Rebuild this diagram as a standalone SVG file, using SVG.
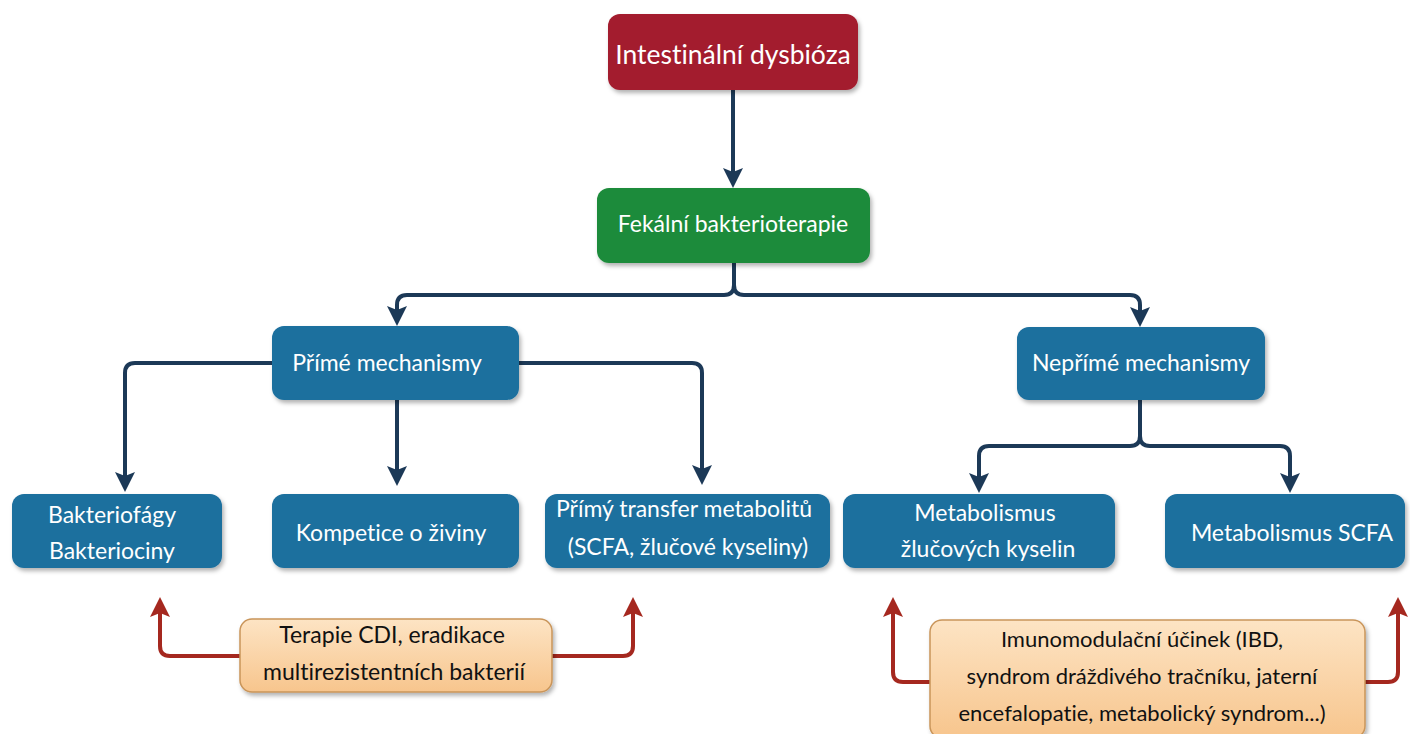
<svg xmlns="http://www.w3.org/2000/svg" width="1410" height="734" viewBox="0 0 1410 734">
<style>
.box{stroke:none;filter:url(#sh)}
.red{fill:#A31B2D}
.green{fill:#1F8B3B}
.blue{fill:#1B6F9E}
.org{fill:url(#og);stroke:#C9955A;stroke-width:1.5;filter:url(#sh)}
.t{font-family:Lato,"Liberation Sans",sans-serif;font-size:23px;fill:#fff;text-anchor:middle;font-variant-ligatures:none}
.tk{font-family:Lato,"Liberation Sans",sans-serif;font-size:23px;fill:#111;text-anchor:middle;font-variant-ligatures:none}
.c{fill:none;stroke:#1C3957;stroke-width:4;marker-end:url(#ad)}
.r{fill:none;stroke:#A5281F;stroke-width:4;marker-end:url(#ar)}
</style>
<defs>
<filter id="sh" x="-10%" y="-10%" width="120%" height="130%">
<feDropShadow dx="2" dy="3" stdDeviation="2" flood-color="#000" flood-opacity="0.3"/>
</filter>
<linearGradient id="og" x1="0" y1="0" x2="0" y2="1">
<stop offset="0" stop-color="#FDE4C4"/>
<stop offset="1" stop-color="#F7C58D"/>
</linearGradient>
<marker id="ad" markerUnits="userSpaceOnUse" viewBox="0 0 20 20" markerWidth="20" markerHeight="20" refX="12" refY="10" orient="auto">
<path d="M0,0 L20,10 L0,20 L4,10 z" fill="#1C3957"/>
</marker>
<marker id="ar" markerUnits="userSpaceOnUse" viewBox="0 0 20 20" markerWidth="20" markerHeight="20" refX="12" refY="10" orient="auto">
<path d="M0,0 L20,10 L0,20 L4,10 z" fill="#A5281F"/>
</marker>
</defs>
<rect width="1410" height="734" fill="#fff"/>
<g id="connectors">
<path class="c" d="M733,90 V180"/>
<path class="c" d="M734,263 V285 Q734,295 724,295 H407 Q397,295 397,305 V318"/>
<path class="c" d="M734,263 V285 Q734,295 744,295 H1130 Q1140,295 1140,305 V319"/>
<path class="c" d="M272,363 H135 Q125,363 125,373 V484"/>
<path class="c" d="M397,400 V478"/>
<path class="c" d="M519,363 H692 Q702,363 702,373 V477"/>
<path class="c" d="M1140,400 V436 Q1140,446 1130,446 H989 Q979,446 979,456 V485"/>
<path class="c" d="M1140,400 V436 Q1140,446 1150,446 H1280 Q1290,446 1290,456 V485"/>
<path class="r" d="M240,656 H170 Q160,656 160,646 V605"/>
<path class="r" d="M552,656 H623 Q633,656 633,646 V605"/>
<path class="r" d="M930,682 H903 Q893,682 893,672 V605"/>
<path class="r" d="M1365,682 H1388 Q1398,682 1398,672 V605"/>
</g>
<g id="n-dysbioza"><rect class="box red" x="608" y="14" width="250" height="76" rx="12"/><text class="t" x="733" y="64" style="font-size:26.5px">Intestinální dysbióza</text></g>
<g id="n-fekalni"><rect class="box green" x="597" y="188" width="273" height="75" rx="12"/><text class="t" x="733" y="232">Fekální bakterioterapie</text></g>
<g id="n-prime"><rect class="box blue" x="272" y="326" width="247" height="74" rx="12"/><text class="t" x="387" y="371">Přímé mechanismy</text></g>
<g id="n-neprime"><rect class="box blue" x="1017" y="327" width="248" height="73" rx="12"/><text class="t" x="1141" y="371">Nepřímé mechanismy</text></g>
<g id="n-bakteriofagy"><rect class="box blue" x="12" y="494" width="210" height="74" rx="12"/><text class="t" x="112" y="523">Bakteriofágy</text><text class="t" x="112" y="559">Bakteriociny</text></g>
<g id="n-kompetice"><rect class="box blue" x="272" y="494" width="247" height="74" rx="12"/><text class="t" x="391" y="541">Kompetice o živiny</text></g>
<g id="n-transfer"><rect class="box blue" x="545" y="494" width="285" height="74" rx="12"/><text class="t" x="684" y="517">Přímý transfer metabolitů</text><text class="t" x="688" y="555">(SCFA, žlučové kyseliny)</text></g>
<g id="n-zlucove"><rect class="box blue" x="843" y="494" width="272" height="74" rx="12"/><text class="t" x="985" y="521">Metabolismus</text><text class="t" x="988" y="557">žlučových kyselin</text></g>
<g id="n-scfa"><rect class="box blue" x="1165" y="494" width="240" height="74" rx="12"/><text class="t" x="1292" y="541">Metabolismus SCFA</text></g>
<g id="n-cdi"><rect class="org" x="240" y="619" width="312" height="73" rx="12"/><text class="tk" x="392" y="643">Terapie CDI, eradikace</text><text class="tk" x="394" y="680">multirezistentních bakterií</text></g>
<g id="n-imuno"><rect class="org" x="930" y="620" width="435" height="118" rx="12"/><text class="tk" x="1142" y="647" style="font-size:22px">Imunomodulační účinek (IBD,</text><text class="tk" x="1142" y="684" style="font-size:22px">syndrom dráždivého tračníku, jaterní</text><text class="tk" x="1142" y="721" style="font-size:22px">encefalopatie, metabolický syndrom...)</text></g>
</svg>
